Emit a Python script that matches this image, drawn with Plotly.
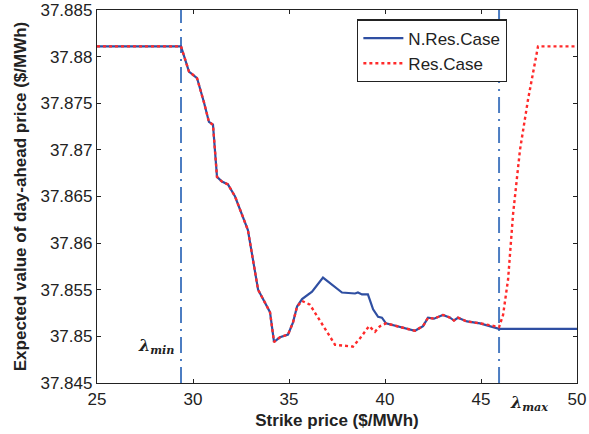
import plotly.graph_objects as go

# Expected day-ahead price versus strike price, without / with reserve
strike_nres = [25.0, 29.375, 29.79, 30.21, 30.57, 30.83, 31.04, 31.25, 31.51, 31.82, 32.19,
               32.60, 32.86, 33.39, 34.01, 34.22, 34.53, 34.95, 35.21, 35.42, 35.68, 36.20,
               36.77, 37.76, 38.18, 38.44, 38.59, 38.80, 39.11, 39.38, 39.64, 39.84, 40.05,
               41.56, 41.98, 42.24, 42.55, 43.02, 43.39, 43.59, 43.80, 44.27, 44.95, 45.94,
               50.0]
price_nres = [37.8811, 37.8811, 37.8784, 37.8777, 37.8751, 37.8730, 37.8727, 37.8671, 37.8666,
              37.8663, 37.8650, 37.8627, 37.8614, 37.8550, 37.8526, 37.8494, 37.8499, 37.8502,
              37.8515, 37.8532, 37.8540, 37.8548, 37.8563, 37.8547, 37.8546, 37.8546, 37.8547,
              37.8545, 37.8545, 37.8529, 37.8521, 37.8520, 37.8514, 37.8506, 37.8511, 37.8520,
              37.8519, 37.8523, 37.8520, 37.8517, 37.8520, 37.8516, 37.8514, 37.8508, 37.8508]

strike_res = [25.0, 29.375, 29.79, 30.21, 30.57, 30.83, 31.04, 31.25, 31.51, 31.82, 32.19,
              32.60, 32.86, 33.39, 34.01, 34.22, 34.53, 34.95, 35.21, 35.42, 35.68, 36.09,
              36.77, 37.40, 38.33, 38.70, 39.17, 39.48, 39.74, 40.05, 41.56, 41.98, 42.24,
              42.55, 43.02, 43.39, 43.59, 43.80, 44.27, 44.95, 45.94, 46.15, 46.41, 46.67,
              47.03, 47.45, 47.97, 50.0]
price_res = [37.8811, 37.8811, 37.8784, 37.8777, 37.8751, 37.8730, 37.8727, 37.8671, 37.8666,
             37.8663, 37.8650, 37.8627, 37.8614, 37.8550, 37.8526, 37.8494, 37.8499, 37.8502,
             37.8515, 37.8532, 37.8538, 37.8534, 37.8511, 37.8491, 37.8489, 37.8498, 37.8511,
             37.8505, 37.8511, 37.8514, 37.8506, 37.8511, 37.8520, 37.8519, 37.8523, 37.8520,
             37.8517, 37.8520, 37.8516, 37.8514, 37.8510, 37.8523, 37.8561, 37.8631, 37.8700,
             37.8754, 37.8811, 37.8811]

lambda_min = 29.375
lambda_max = 45.94

x_ticks = [25, 30, 35, 40, 45, 50]
y_ticks = [37.845, 37.85, 37.855, 37.86, 37.865, 37.87, 37.875, 37.88, 37.885]
y_tick_text = ["37.845", "37.85", "37.855", "37.86", "37.865", "37.87", "37.875", "37.88", "37.885"]

blue = "#2F4FA2"
red = "#FF2A2A"
guide = "#4C7DC2"
ink = "#222222"

fig = go.Figure()
fig.add_trace(go.Scatter(x=strike_nres, y=price_nres, mode="lines", name="N.Res.Case",
                         line=dict(color=blue, width=2.2)))
fig.add_trace(go.Scatter(x=strike_res, y=price_res, mode="lines", name="Res.Case",
                         line=dict(color=red, width=2.4, dash="dot")))

for xv in (lambda_min, lambda_max):
    fig.add_shape(type="line", xref="x", yref="paper", x0=xv, x1=xv, y0=0, y1=1,
                  line=dict(color=guide, width=2, dash="16px,6px,2px,6px"), layer="below")

fig.add_annotation(x=lambda_min, y=37.8489, xref="x", yref="y", xanchor="right",
                   xshift=-5, showarrow=False,
                   text="<b><i>λ</i></b><sub><b><i>min</i></b></sub>",
                   font=dict(family="DejaVu Serif", size=16, color=ink))
fig.add_annotation(x=lambda_max, y=0, xref="x", yref="paper", xanchor="left",
                   yanchor="top", xshift=9, yshift=-8, showarrow=False,
                   text="<b><i>λ</i></b><sub><b><i>max</i></b></sub>",
                   font=dict(family="DejaVu Serif", size=16, color=ink))

axis_common = dict(showline=True, linecolor=ink, linewidth=1.3, mirror="ticks",
                   ticks="inside", ticklen=4, tickcolor=ink, showgrid=False,
                   zeroline=False, automargin=False,
                   tickfont=dict(family="Liberation Sans", size=17, color=ink))

fig.update_xaxes(range=[25, 50], tickvals=x_ticks, ticklabelstandoff=0,
                 title=dict(text="<b>Strike price ($/MWh)</b>", standoff=6,
                            font=dict(family="Liberation Sans", size=17, color=ink)),
                 **axis_common)
fig.update_yaxes(range=[37.845, 37.885], tickvals=y_ticks, ticktext=y_tick_text,
                 title=dict(text="<b>Expected value of day-ahead price ($/MWh)</b>", standoff=9,
                            font=dict(family="Liberation Sans", size=17, color=ink)),
                 **axis_common)

fig.update_layout(
    width=589, height=434,
    margin=dict(l=97, r=12, t=10, b=51),
    plot_bgcolor="white", paper_bgcolor="white",
    legend=dict(x=0.542, y=0.975, xanchor="left", yanchor="top",
                bgcolor="white", bordercolor=ink, borderwidth=1.2,
                font=dict(family="Liberation Sans", size=17, color=ink),
                tracegroupgap=0, itemwidth=40),
)

fig.write_html("out.html")
